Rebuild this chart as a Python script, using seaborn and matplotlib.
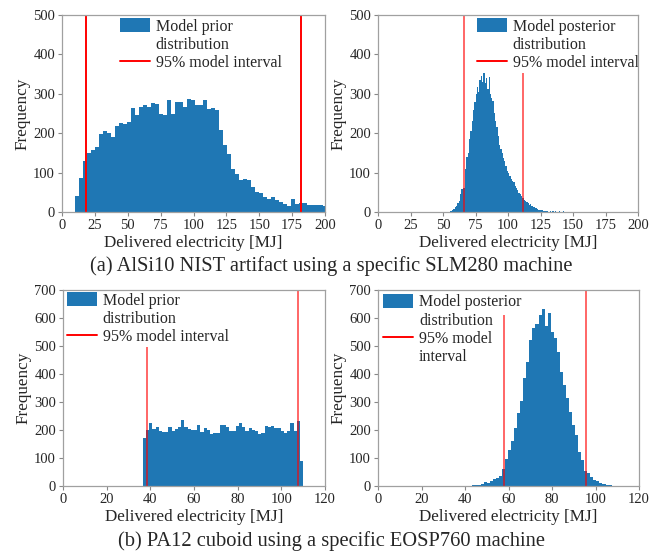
import numpy as np
import pandas as pd
import matplotlib
matplotlib.use("Agg")
import matplotlib.pyplot as plt
import seaborn as sns
from matplotlib.patches import Patch
from matplotlib.lines import Line2D

sns.set_style("white")
plt.rcParams['font.family'] = ['Liberation Serif', 'DejaVu Serif']

# ---------------- data ----------------
# (a) prior: bins start / width / counts
a_prior_start = 9.9
a_prior_width = 3.04
a_prior_counts = [41, 86, 129, 151, 157, 166, 197, 206, 201, 191, 219, 225, 223, 228,
                  264, 247, 266, 271, 266, 277, 275, 250, 246, 284, 248, 279, 279, 266,
                  288, 284, 271, 271, 284, 262, 263, 259, 208, 169, 146, 108, 96, 81,
                  85, 80, 64, 52, 47, 39, 32, 39, 30, 25, 20, 14, 32, 20, 22, 24, 18,
                  18, 18, 18, 16]
a_prior_interval = [18.5, 181.5]

# (a) posterior
a_post_start = 54.0
a_post_width = 1.0
a_post_counts = [1, 3, 2, 5, 8, 12, 14, 22, 28, 45, 58, 60, 62, 110, 140, 150, 185, 205,
                 230, 258, 280, 300, 318, 305, 335, 345, 330, 362, 328, 340, 312, 342,
                 300, 290, 282, 252, 230, 215, 192, 170, 160, 150, 138, 130, 118, 105,
                 98, 92, 85, 78, 75, 65, 62, 55, 48, 46, 40, 36, 30, 28, 25, 22, 18, 20,
                 15, 12, 13, 10, 8, 6, 5, 4, 5, 3, 2, 3, 2, 1, 2, 1, 2, 1, 2, 1, 1, 2,
                 1, 1, 2, 1, 1]
a_post_interval = [66.5, 111.5]

# (b) prior
b_prior_start = 36.5
b_prior_width = 1.47
b_prior_counts = [170, 200, 226, 203, 212, 197, 193, 192, 210, 197,
                  205, 210, 236, 210, 205, 200, 200, 218, 193, 207,
                  200, 185, 190, 188, 218, 218, 210, 195, 195, 214,
                  224, 210, 195, 207, 200, 198, 185, 188, 214, 210,
                  214, 208, 208, 195, 190, 195, 226, 195, 232, 89]
b_prior_interval = [38.3, 107.5]

# (b) posterior
b_post_start = 43.0
b_post_width = 1.4
b_post_counts = [2, 3, 4, 8, 14, 10, 18, 24, 28, 36, 60, 96, 128, 160, 208, 262, 305,
                 385, 444, 521, 564, 578, 611, 632, 571, 618, 551, 528, 480, 408, 361,
                 314, 265, 218, 182, 123, 93, 55, 48, 33, 23, 18, 12, 8, 5, 3, 1]
b_post_interval = [58.0, 95.6]

# text
xlabel = "Delivered electricity [MJ]"
ylabel = "Frequency"
caption_a = "(a) AlSi10 NIST artifact using a specific SLM280 machine"
caption_b = "(b) PA12 cuboid using a specific EOSP760 machine"
legend_a_prior = ["Model prior", "distribution", "95% model interval"]
legend_a_post = ["Model posterior", "distribution", "95% model interval"]
legend_b_prior = ["Model prior", "distribution", "95% model interval"]
legend_b_post = ["Model posterior", "distribution", "95% model", "interval"]

ticks_a_x = [0, 25, 50, 75, 100, 125, 150, 175, 200]
ticks_a_y = [0, 100, 200, 300, 400, 500]
ticks_b_x = [0, 20, 40, 60, 80, 100, 120]
ticks_b_y = [0, 100, 200, 300, 400, 500, 600, 700]

BLUE = "#1f77b4"
RED = "#ff0000"

fig = plt.figure(figsize=(6.65, 5.51), dpi=100)
W, H = 665, 551


def add_ax(l, t, r, b):
    return fig.add_axes([l / W, 1 - b / H, (r - l) / W, (b - t) / H])


def panel(ax, start, width, counts, interval, line_alpha, xlim, ylim,
          xticks, yticks, labels, legend_anchor, solid_frame):
    counts = [float(c) for c in counts]
    edges = [start + width * i for i in range(len(counts) + 1)]
    centers = [(edges[i] + edges[i + 1]) / 2 for i in range(len(counts))]
    df = pd.DataFrame({"energy": centers, "count": counts})
    sns.histplot(data=df, x="energy", weights="count", bins=edges, ax=ax,
                 color=BLUE, alpha=1, linewidth=0, zorder=1)
    for xv in interval:
        ax.axvline(xv, color=RED, alpha=line_alpha, lw=1.4, zorder=3)
    ax.set_xlim(*xlim)
    ax.set_ylim(*ylim)
    ax.set_xticks(xticks)
    ax.set_yticks(yticks)
    ax.set_xlabel(xlabel, fontsize=12.3, labelpad=2)
    ax.set_ylabel(ylabel, fontsize=12.3, labelpad=2)
    ax.tick_params(axis='both', labelsize=10.5, length=3, width=0.8, color='#888888',
                   pad=2, bottom=True, left=True, direction='out')
    for s in ax.spines.values():
        s.set_color('#a0a0a0')
        s.set_linewidth(0.9)
        s.set_zorder(6)
    handles = [Patch(facecolor=BLUE, edgecolor='none'), Line2D([], [], ls='none')]
    if len(labels) == 3:
        handles.append(Line2D([], [], color=RED, lw=1.4))
    else:
        handles += [Line2D([], [], color=RED, lw=1.4), Line2D([], [], ls='none')]
    leg = ax.legend(handles=handles, labels=labels, loc='upper left',
                    bbox_to_anchor=legend_anchor, frameon=solid_frame, fontsize=11.5,
                    handlelength=1.9, handleheight=0.9, handletextpad=0.35,
                    labelspacing=0.12, borderpad=0.15, borderaxespad=0,
                    facecolor='white', edgecolor='none', framealpha=1, fancybox=False)
    leg.set_zorder(5)
    if not solid_frame:
        for t in leg.get_texts()[:1]:
            t.set_bbox(dict(facecolor='white', edgecolor='none', pad=3))


ax1 = add_ax(62, 15, 325, 212)
panel(ax1, a_prior_start, a_prior_width, a_prior_counts, a_prior_interval, 1.0,
      (0, 200), (0, 500), ticks_a_x, ticks_a_y, legend_a_prior, (0.21, 0.995), True)

ax2 = add_ax(378, 15, 638, 212)
panel(ax2, a_post_start, a_post_width, a_post_counts, a_post_interval, 0.6,
      (0, 200), (0, 500), ticks_a_x, ticks_a_y, legend_a_post, (0.37, 0.995), True)

ax3 = add_ax(63, 290, 325, 486)
panel(ax3, b_prior_start, b_prior_width, b_prior_counts, b_prior_interval, 0.6,
      (0, 120), (0, 700), ticks_b_x, ticks_b_y, legend_b_prior, (0.005, 1.0), True)

ax4 = add_ax(378, 290, 639, 486)
panel(ax4, b_post_start, b_post_width, b_post_counts, b_post_interval, 0.6,
      (0, 120), (0, 700), ticks_b_x, ticks_b_y, legend_b_post, (0.01, 0.99), False)

fig.text(331 / W, 1 - 266 / H, caption_a, ha='center', va='center', fontsize=14.8)
fig.text(331 / W, 1 - 541 / H, caption_b, ha='center', va='center', fontsize=14.8)

fig.savefig("out.png", dpi=100)
